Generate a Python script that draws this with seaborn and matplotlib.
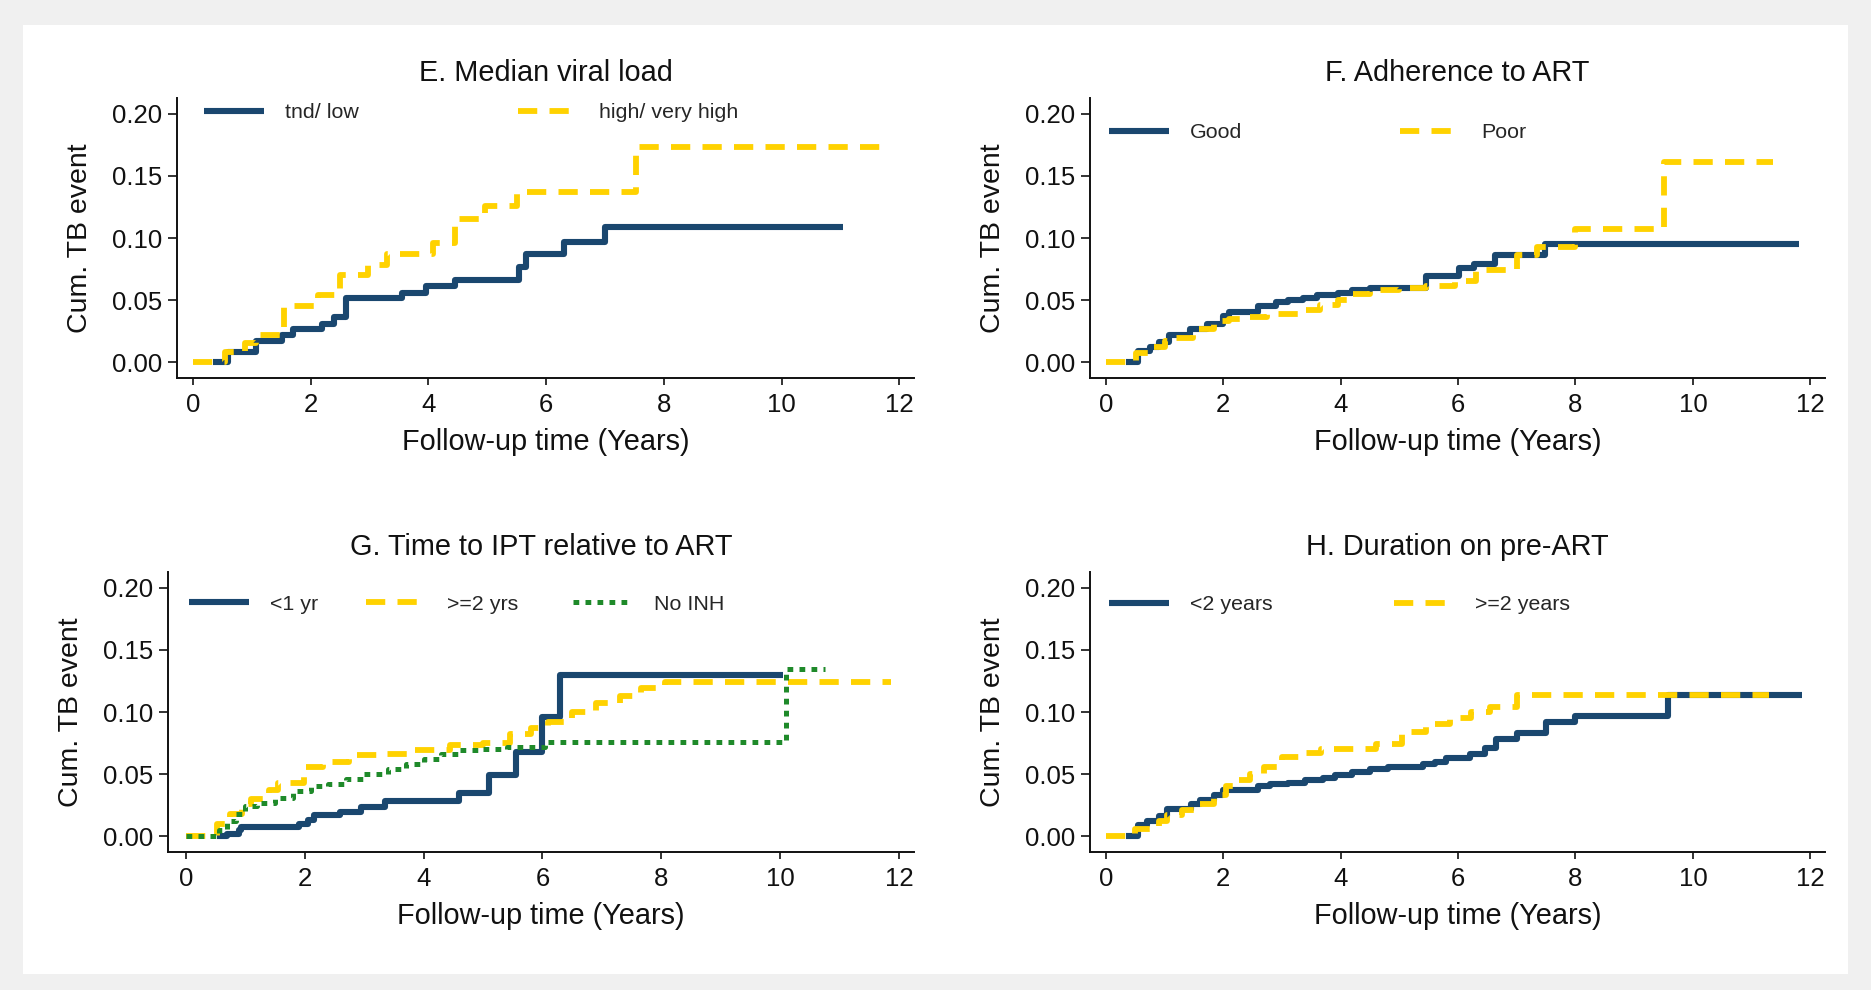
import matplotlib
matplotlib.use("Agg")
import matplotlib.pyplot as plt
import seaborn as sns
import pandas as pd
from matplotlib.patches import Rectangle
from matplotlib.lines import Line2D

sns.set_style("ticks")
plt.rcParams["font.family"] = ["Liberation Sans", "DejaVu Sans"]

# ---------------- data ----------------
titles = ["E. Median viral load", "F. Adherence to ART",
          "G. Time to IPT relative to ART", "H. Duration on pre-ART"]
x_label = "Follow-up time (Years)"
y_label = "Cum. TB event"
x_ticks = [0, 2, 4, 6, 8, 10, 12]
y_ticks = [0.00, 0.05, 0.10, 0.15, 0.20]
y_tick_labels = ["0.00", "0.05", "0.10", "0.15", "0.20"]

# E. Median viral load
e_labels = ["tnd/ low", "high/ very high"]
e_low_t = [0.35, 0.59, 1.08, 1.52, 1.70, 2.20, 2.40, 2.60, 3.55, 3.96, 4.45, 5.54, 5.66, 6.31, 7.00, 11.05]
e_low_v = [0, 0.008, 0.017, 0.022, 0.027, 0.031, 0.036, 0.052, 0.056, 0.061, 0.066, 0.077, 0.087, 0.097, 0.109, 0.109]
e_high_t = [0.0, 0.55, 0.88, 1.08, 1.55, 2.13, 2.50, 2.98, 3.30, 4.08, 4.45, 4.97, 5.50, 7.52, 11.86]
e_high_v = [0, 0.008, 0.015, 0.022, 0.045, 0.054, 0.070, 0.078, 0.087, 0.096, 0.115, 0.126, 0.137, 0.173, 0.173]

# F. Adherence to ART
f_labels = ["Good", "Poor"]
f_good_t = [0.35, 0.55, 0.75, 0.90, 1.08, 1.44, 1.72, 2.00, 2.10, 2.60, 2.90, 3.10, 3.35, 3.60, 3.95,
            4.20, 4.50, 5.45, 6.02, 6.27, 6.63, 7.48, 11.80]
f_good_v = [0, 0.009, 0.012, 0.016, 0.022, 0.027, 0.031, 0.037, 0.040, 0.045, 0.048, 0.050, 0.052, 0.054, 0.056,
            0.058, 0.060, 0.069, 0.076, 0.079, 0.086, 0.095, 0.095]
f_poor_t = [0.0, 0.51, 0.75, 1.00, 1.20, 1.48, 1.85, 2.10, 2.38, 2.75, 3.40, 3.65, 3.95, 4.20, 4.50,
            5.00, 5.45, 5.95, 6.30, 7.00, 7.35, 8.00, 9.50, 11.37]
f_poor_v = [0, 0.007, 0.012, 0.017, 0.019, 0.027, 0.033, 0.035, 0.036, 0.039, 0.042, 0.046, 0.050, 0.055, 0.058,
            0.060, 0.061, 0.065, 0.074, 0.086, 0.093, 0.107, 0.161, 0.161]

# G. Time to IPT relative to ART
g_labels = ["<1 yr", ">=2 yrs", "No INH"]
g_lt1_t = [0.53, 0.69, 0.89, 0.93, 1.90, 2.05, 2.15, 2.60, 2.95, 3.35, 4.60, 5.10, 5.55, 6.00, 6.30, 10.05]
g_lt1_v = [0, 0.002, 0.005, 0.007, 0.010, 0.013, 0.017, 0.019, 0.023, 0.028, 0.035, 0.049, 0.068, 0.096, 0.130, 0.130]
g_ge2_t = [0.0, 0.53, 0.75, 0.95, 1.10, 1.40, 1.55, 1.98, 2.30, 2.75, 3.30, 3.85, 4.45, 5.00, 5.45, 5.80,
           6.10, 6.50, 6.90, 7.30, 7.66, 8.06, 11.87]
g_ge2_v = [0, 0.010, 0.018, 0.026, 0.030, 0.037, 0.043, 0.056, 0.060, 0.065, 0.066, 0.069, 0.073, 0.075, 0.082, 0.087,
           0.092, 0.100, 0.107, 0.113, 0.119, 0.124, 0.124]
g_noinh_t = [0.0, 0.55, 0.70, 0.85, 1.00, 1.20, 1.50, 1.80, 2.10, 2.40, 2.70, 3.00, 3.40, 3.70, 4.00,
             4.30, 4.60, 5.00, 5.40, 6.05, 10.10, 10.75]
g_noinh_v = [0, 0.005, 0.012, 0.018, 0.024, 0.027, 0.031, 0.036, 0.040, 0.042, 0.046, 0.050, 0.054, 0.058, 0.062,
             0.066, 0.069, 0.070, 0.072, 0.076, 0.135, 0.135]

# H. Duration on pre-ART
h_labels = ["<2 years", ">=2 years"]
h_lt2_t = [0.35, 0.55, 0.70, 0.90, 1.05, 1.45, 1.60, 1.85, 2.00, 2.60, 2.80, 3.10, 3.40, 3.70, 3.90,
           4.20, 4.50, 4.80, 5.40, 5.60, 5.80, 6.20, 6.45, 6.65, 7.00, 7.50, 8.00, 9.58, 11.86]
h_lt2_v = [0, 0.009, 0.012, 0.016, 0.022, 0.026, 0.029, 0.033, 0.037, 0.040, 0.042, 0.043, 0.045, 0.047, 0.049,
           0.052, 0.054, 0.056, 0.058, 0.060, 0.063, 0.066, 0.071, 0.078, 0.083, 0.092, 0.097, 0.114, 0.114]
h_ge2_t = [0.0, 0.50, 0.90, 1.05, 1.30, 1.55, 1.85, 2.05, 2.20, 2.45, 2.70, 3.00, 3.30, 3.67, 4.60,
           5.05, 5.45, 5.86, 6.22, 6.55, 7.00, 11.30]
h_ge2_v = [0, 0.006, 0.012, 0.017, 0.021, 0.026, 0.033, 0.040, 0.045, 0.050, 0.056, 0.064, 0.067, 0.070, 0.074,
           0.084, 0.090, 0.095, 0.100, 0.104, 0.114, 0.114]

# ---------------- styles ----------------
NAVY = "#1a476f"
GOLD = "#ffd200"
GREEN = "#1f8a2a"
styles = {
    "solid": dict(color=NAVY, lw=4.4, ls="-"),
    "dash": dict(color=GOLD, lw=4.2, ls=(0, (3.3, 2.1))),
    "dot": dict(color=GREEN, lw=3.6, ls=(0, (1.15, 1.25))),
}

panels = [
    dict(title=titles[0], series=[(e_low_t, e_low_v, e_labels[0], "solid"),
                                  (e_high_t, e_high_v, e_labels[1], "dash")],
         rect=(177, 98, 914, 378), xlim=(-0.27, 12.25), leg_x=[204, 518], leg_y=113),
    dict(title=titles[1], series=[(f_good_t, f_good_v, f_labels[0], "solid"),
                                  (f_poor_t, f_poor_v, f_labels[1], "dash")],
         rect=(1090, 98, 1825, 378), xlim=(-0.27, 12.25), leg_x=[1109, 1400], leg_y=133),
    dict(title=titles[2], series=[(g_lt1_t, g_lt1_v, g_labels[0], "solid"),
                                  (g_ge2_t, g_ge2_v, g_labels[1], "dash"),
                                  (g_noinh_t, g_noinh_v, g_labels[2], "dot")],
         rect=(168, 572, 914, 852), xlim=(-0.30, 12.25), leg_x=[189, 366, 573], leg_y=604),
    dict(title=titles[3], series=[(h_lt2_t, h_lt2_v, h_labels[0], "solid"),
                                  (h_ge2_t, h_ge2_v, h_labels[1], "dash")],
         rect=(1090, 572, 1825, 852), xlim=(-0.27, 12.25), leg_x=[1109, 1394], leg_y=605),
]

W, H = 1871, 990
fig = plt.figure(figsize=(W / 100, H / 100), dpi=100, facecolor="#f0f0f0")
fig.patches.append(Rectangle((23 / W, 1 - 974 / H), (1848 - 23) / W, (974 - 25) / H,
                             transform=fig.transFigure, facecolor="white", edgecolor="none", zorder=-10))

for p in panels:
    x0, y0, x1, y1 = p["rect"]
    ax = fig.add_axes([x0 / W, 1 - y1 / H, (x1 - x0) / W, (y1 - y0) / H])
    ax.set_facecolor("none")
    for t, v, lab, sty in p["series"]:
        df = pd.DataFrame({"t": t, "v": v})
        s = styles[sty]
        sns.lineplot(data=df, x="t", y="v", ax=ax, drawstyle="steps-post", estimator=None, sort=False,
                     color=s["color"], linewidth=s["lw"], linestyle=s["ls"],
                     solid_capstyle="butt", dash_capstyle="butt")
    ax.set_xlim(*p["xlim"])
    ax.set_ylim(-0.0129, 0.2129)
    ax.set_xticks(x_ticks)
    ax.set_yticks(y_ticks)
    ax.set_yticklabels(y_tick_labels)
    sns.despine(ax=ax)
    for sp in ["left", "bottom"]:
        ax.spines[sp].set_linewidth(1.4)
        ax.spines[sp].set_color("#111111")
    ax.tick_params(axis="y", length=6.5, width=1.2, pad=4, labelsize=18.5, colors="#111111")
    ax.tick_params(axis="x", length=5, width=1.2, pad=5.5, labelsize=18.5, colors="#111111")
    ax.set_xlabel(x_label, fontsize=20.8, labelpad=8, color="#111111")
    ax.set_ylabel(y_label, fontsize=20.5, labelpad=14, color="#111111")
    ax.set_title(p["title"], fontsize=20.8, pad=12, color="#111111")
    # legend entries
    for (t, v, lab, sty), lx in zip(p["series"], p["leg_x"]):
        s = styles[sty]
        h = Line2D([], [], color=s["color"], lw=s["lw"], ls=s["ls"], solid_capstyle="butt", dash_capstyle="butt")
        fig.legend([h], [lab], loc="center left", bbox_to_anchor=(lx / W, 1 - p["leg_y"] / H),
                   frameon=False, borderpad=0, borderaxespad=0, handlelength=2.8,
                   handletextpad=1.0, fontsize=15.4)

fig.savefig("out.png", dpi=100, facecolor=fig.get_facecolor())
